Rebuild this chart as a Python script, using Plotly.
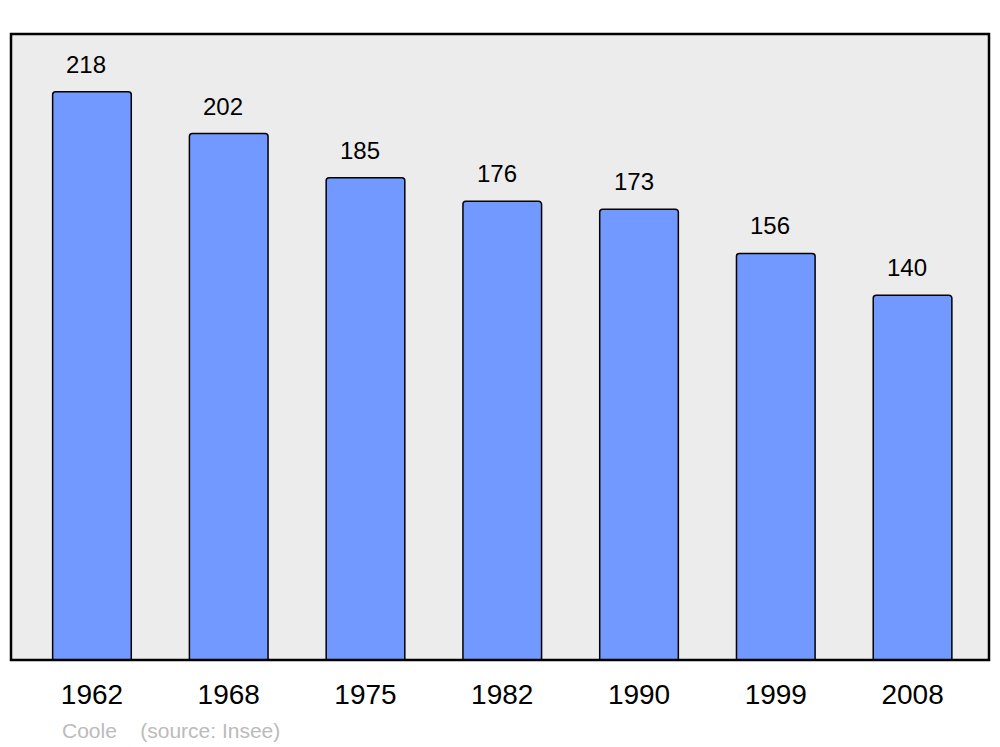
import plotly.graph_objects as go

years = ["1962", "1968", "1975", "1982", "1990", "1999", "2008"]
population = [218, 202, 185, 176, 173, 156, 140]

pos = list(range(len(years)))

fig = go.Figure(go.Bar(
    x=pos, y=population, width=0.575,
    marker=dict(color="#7299ff", line=dict(color="black", width=1.5), cornerradius=3),
    hoverinfo="skip",
))

for p, v in zip(pos, population):
    fig.add_annotation(x=p - 0.04, y=v, text=str(v), showarrow=False, yanchor="bottom",
                       yshift=12, font=dict(size=24, color="black"))

fig.add_annotation(x=0.05, y=-0.112, xref="paper", yref="paper", xanchor="left",
                   yanchor="middle",
                   text="Coole&nbsp;&nbsp;&nbsp;&nbsp;(source: Insee)", showarrow=False,
                   font=dict(size=21, color="#bbbbbb"))

fig.add_shape(type="rect", xref="paper", yref="paper", x0=0, x1=1, y0=0, y1=1,
              line=dict(color="black", width=2.5), layer="above")

fig.update_layout(
    width=1000, height=747,
    margin=dict(l=11, r=11, t=34, b=87),
    plot_bgcolor="#ececec", paper_bgcolor="white",
    font=dict(family="Liberation Sans, Arial, sans-serif", color="black"),
    showlegend=False,
)
fig.update_xaxes(range=[-0.592, 6.559], tickvals=pos, ticktext=years, showgrid=False,
                 zeroline=False, tickfont=dict(size=28), ticks="", ticklen=0,
                 ticklabelstandoff=15)
fig.update_yaxes(range=[0, 240.2], showgrid=False, zeroline=False, showticklabels=False)

fig.write_html("out.html", config={"displayModeBar": False},
               post_script="document.body.style.margin='0';")
